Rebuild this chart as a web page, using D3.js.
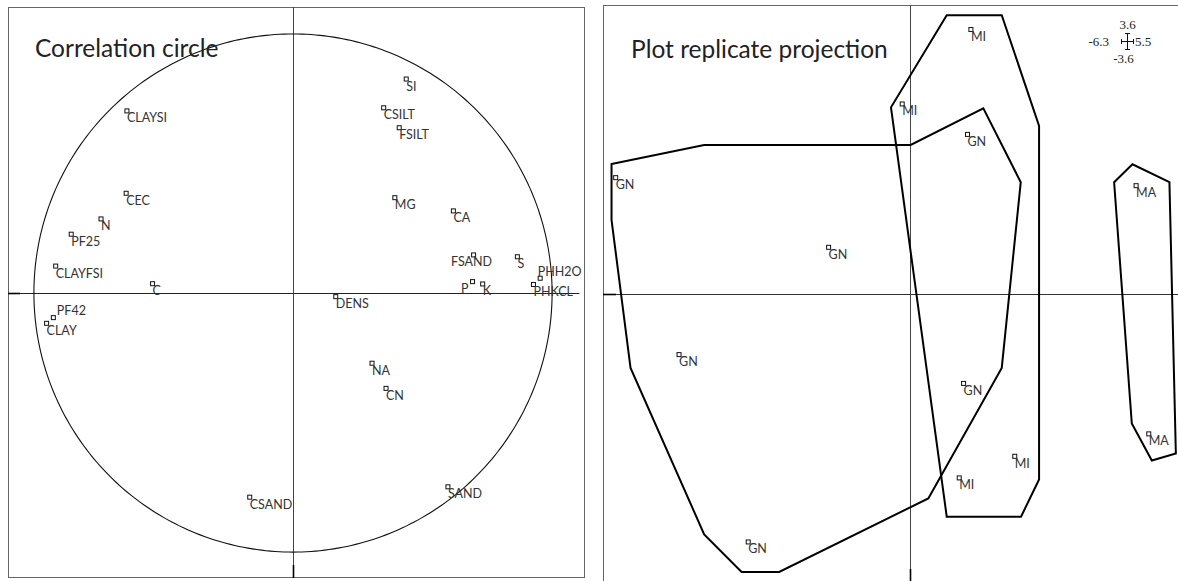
<!DOCTYPE html>
<html>
<head>
<meta charset="utf-8">
<script src="https://cdn.jsdelivr.net/npm/d3@7"></script>
<style>
  html, body { margin: 0; padding: 0; background: #fff; }
  svg { display: block; }
</style>
</head>
<body>
<svg id="chart" width="1178" height="581"></svg>
<script>
// ---------- DATA: correlation circle (variables) ----------
const varNames = ["CLAYSI","CEC","N","PF25","CLAYFSI","C","PF42","CLAY","CSAND",
  "SI","CSILT","FSILT","MG","CA","FSAND","S","PHH2O","PHKCL","P","K","DENS","NA","CN","SAND"];
const varX = [-0.641,-0.644,-0.741,-0.856,-0.916,-0.542,-0.925,-0.951,-0.167,
  0.437,0.350,0.410,0.393,0.619,0.697,0.866,0.954,0.928,0.693,0.732,0.165,0.305,0.359,0.598];
const varY = [0.703,0.385,0.286,0.227,0.104,0.036,-0.095,-0.117,-0.788,
  0.826,0.715,0.638,0.368,0.317,0.147,0.140,0.057,0.033,0.044,0.035,-0.014,-0.271,-0.368,-0.748];
// label placement codes: "br" below-right (default), "bc" below-centred, "bl" below-left, "tr" above-right
const varLabelPos = ["br","br","br","br","br","br","tr","br","br",
  "br","br","br","br","br","bc","br","tr","br","bl","br","br","br","br","br"];
const circleDomainX = [-1.1, 1.127];
const circleDomainY = [-1.1, 1.104];

// ---------- DATA: plot replicate projection ----------
const repNames = ["GN","GN","MI","MI","GN","MA","GN","GN","GN","MI","MI","MA"];
const repX = [-6.04,-1.67,1.25,-0.16,1.18,4.64,-4.74,-3.32,1.10,2.15,1.01,4.90];
const repY = [1.45,0.58,3.30,2.37,1.99,1.35,-0.76,-3.10,-1.12,-2.03,-2.30,-1.75];
const projDomainX = [-6.3, 5.5];
const projDomainY = [-3.6, 3.6];

// group envelopes (polygon vertices in projection units)
const hullGN_X = [-6.125,-4.224,0.014,1.505,2.273,1.883,0.376,-2.684,-3.456,-4.224,-5.735,-6.125];
const hullGN_Y = [1.621,1.858,1.858,2.315,1.393,-0.926,-2.556,-3.475,-3.475,-3.005,-0.926,0.923];
const hullMI_X = [0.754,1.883,2.649,2.649,2.279,0.754,-0.390];
const hullMI_Y = [3.479,3.479,2.095,-2.319,-2.784,-2.784,2.328];
const hullMA_X = [4.189,4.565,5.324,5.456,4.963,4.552];
const hullMA_Y = [1.393,1.617,1.393,-1.995,-2.082,-1.621];

const titles = ["Correlation circle", "Plot replicate projection"];

// ---------- DRAWING ----------
const svg = d3.select("#chart");
const labelFont = "Lato, 'Open Sans', sans-serif";

// Left panel scales
const xL = d3.scaleLinear().domain(circleDomainX).range([8, 585]);
const yL = d3.scaleLinear().domain(circleDomainY).range([578, 7]);
// Right panel scales
const xR = d3.scaleLinear().domain(projDomainX).range([603, 1178]);
const yR = d3.scaleLinear().domain(projDomainY).range([582, 5.5]);

// ---- left panel ----
const gL = svg.append("g");
gL.append("rect").attr("x", 8.5).attr("y", 7.5).attr("width", 576).attr("height", 570)
  .attr("fill", "none").attr("stroke", "#666").attr("stroke-width", 1);
gL.append("line").attr("x1", xL(circleDomainX[0])).attr("x2", xL(1.105))
  .attr("y1", Math.round(yL(0)) + 0.5).attr("y2", Math.round(yL(0)) + 0.5)
  .attr("stroke", "#222").attr("stroke-width", 1);
gL.append("line").attr("y1", yL(circleDomainY[1])).attr("y2", yL(circleDomainY[0]))
  .attr("x1", Math.round(xL(0)) + 0.5).attr("x2", Math.round(xL(0)) + 0.5)
  .attr("stroke", "#444").attr("stroke-width", 1);
gL.append("line").attr("x1", xL(circleDomainX[0])).attr("x2", xL(circleDomainX[0]) + 12)
  .attr("y1", Math.round(yL(0)) + 0.5).attr("y2", Math.round(yL(0)) + 0.5)
  .attr("stroke", "#000").attr("stroke-width", 1.6);
gL.append("line").attr("y1", yL(circleDomainY[0]) - 13).attr("y2", yL(circleDomainY[0]))
  .attr("x1", Math.round(xL(0)) + 0.5).attr("x2", Math.round(xL(0)) + 0.5)
  .attr("stroke", "#000").attr("stroke-width", 1.6);
const angles = d3.range(0, 361, 1).map(a => a * Math.PI / 180);
gL.append("path")
  .attr("d", d3.line().x(a => xL(Math.cos(a))).y(a => yL(Math.sin(a)))(angles))
  .attr("fill", "none").attr("stroke", "#111").attr("stroke-width", 1.1);
gL.append("text").attr("x", 35).attr("y", 57).text(titles[0])
  .attr("font-family", labelFont).attr("font-size", 24.5).attr("fill", "#222");

function labelAttrs(pos) {
  switch (pos) {
    case "bc": return [-2, 11.5, "middle"];
    case "bl": return [-4, 11.5, "end"];
    case "tr": return [-2.5, -2.5, "start"];
    default: return [0, 11.5, "start"];
  }
}

const vars = varNames.map((n, i) => ({ n, x: varX[i], y: varY[i], p: varLabelPos[i] }));
const gv = gL.selectAll("g.var").data(vars).join("g").attr("class", "var");
gv.append("rect")
  .attr("x", d => xL(d.x) - 2).attr("y", d => yL(d.y) - 2)
  .attr("width", 4).attr("height", 4)
  .attr("fill", "#fff").attr("stroke", "#111").attr("stroke-width", 1);
gv.append("text")
  .attr("x", d => xL(d.x) + labelAttrs(d.p)[0])
  .attr("y", d => yL(d.y) + labelAttrs(d.p)[1])
  .attr("text-anchor", d => labelAttrs(d.p)[2])
  .attr("font-family", labelFont).attr("font-size", 12.5).attr("fill", "#333")
  .text(d => d.n);
gv.filter(d => d.n === "PF42").select("text").attr("x", d => xL(d.x) + 3.5);

// ---- right panel ----
const gR = svg.append("g");
gR.append("rect").attr("x", 603.5).attr("y", 5.5).attr("width", 700).attr("height", 700)
  .attr("fill", "none").attr("stroke", "#666").attr("stroke-width", 1);
gR.append("line").attr("x1", xR(projDomainX[0])).attr("x2", xR(projDomainX[1]))
  .attr("y1", Math.round(yR(0)) + 0.5).attr("y2", Math.round(yR(0)) + 0.5)
  .attr("stroke", "#333").attr("stroke-width", 1);
gR.append("line").attr("y1", yR(projDomainY[1])).attr("y2", yR(projDomainY[0]))
  .attr("x1", Math.round(xR(0)) + 0.5).attr("x2", Math.round(xR(0)) + 0.5)
  .attr("stroke", "#444").attr("stroke-width", 1);
gR.append("line").attr("x1", xR(projDomainX[0])).attr("x2", xR(projDomainX[0]) + 13)
  .attr("y1", Math.round(yR(0)) + 0.5).attr("y2", Math.round(yR(0)) + 0.5)
  .attr("stroke", "#000").attr("stroke-width", 1.6);
gR.append("line").attr("y1", yR(projDomainY[0]) - 13).attr("y2", yR(projDomainY[0]))
  .attr("x1", Math.round(xR(0)) + 0.5).attr("x2", Math.round(xR(0)) + 0.5)
  .attr("stroke", "#000").attr("stroke-width", 1.6);

gR.append("text").attr("x", 631).attr("y", 58).text(titles[1])
  .attr("font-family", labelFont).attr("font-size", 24.5).attr("fill", "#222");

const hulls = [[hullGN_X, hullGN_Y], [hullMI_X, hullMI_Y], [hullMA_X, hullMA_Y]]
  .map(([xs, ys]) => xs.map((x, i) => [x, ys[i]]));
const hullLine = d3.line().x(d => xR(d[0])).y(d => yR(d[1])).curve(d3.curveLinearClosed);
gR.selectAll("path.hull").data(hulls).join("path").attr("class", "hull")
  .attr("d", hullLine).attr("fill", "none").attr("stroke", "#000")
  .attr("stroke-width", 2).attr("stroke-linejoin", "miter");

const reps = repNames.map((n, i) => ({ n, x: repX[i], y: repY[i] }));
const gp = gR.selectAll("g.rep").data(reps).join("g").attr("class", "rep");
gp.append("rect")
  .attr("x", d => xR(d.x) - 2).attr("y", d => yR(d.y) - 2)
  .attr("width", 4).attr("height", 4)
  .attr("fill", "#fff").attr("stroke", "#111").attr("stroke-width", 1);
gp.append("text")
  .attr("x", d => xR(d.x)).attr("y", d => yR(d.y) + 11.5)
  .attr("font-family", labelFont).attr("font-size", 12.5).attr("fill", "#333")
  .text(d => d.n);

// scale legend (axis extents)
const cx = 1127.5, cy = 41.5, hw = 6, hh = 8;
const lg = gR.append("g").attr("stroke", "#111").attr("stroke-width", 1);
lg.append("line").attr("x1", cx - hw).attr("x2", cx + hw).attr("y1", cy).attr("y2", cy);
lg.append("line").attr("x1", cx).attr("x2", cx).attr("y1", cy - hh).attr("y2", cy + hh);
lg.append("line").attr("x1", cx - hw).attr("x2", cx - hw).attr("y1", cy - 2.5).attr("y2", cy + 2.5);
lg.append("line").attr("x1", cx + hw).attr("x2", cx + hw).attr("y1", cy - 2.5).attr("y2", cy + 2.5);
lg.append("line").attr("x1", cx - 2.5).attr("x2", cx + 2.5).attr("y1", cy - hh).attr("y2", cy - hh);
lg.append("line").attr("x1", cx - 2.5).attr("x2", cx + 2.5).attr("y1", cy + hh).attr("y2", cy + hh);
const fmt = v => d3.format(".1f")(v).replace("\u2212", "-");
const legendText = [
  [fmt(projDomainY[1]), cx, cy - 12.5, "middle"],
  [fmt(projDomainX[0]), cx - 18.5, cy + 4, "end"],
  [fmt(projDomainX[1]), cx + 7.5, cy + 4, "start"],
  [fmt(projDomainY[0]), cx - 4, cy + 21.5, "middle"]
];
gR.selectAll("text.lg").data(legendText).join("text").attr("class", "lg")
  .attr("x", d => d[1]).attr("y", d => d[2]).attr("text-anchor", d => d[3])
  .attr("font-family", "'Liberation Serif', 'DejaVu Serif', serif").attr("font-size", 13)
  .attr("fill", "#222").text(d => d[0]);
</script>
</body>
</html>
